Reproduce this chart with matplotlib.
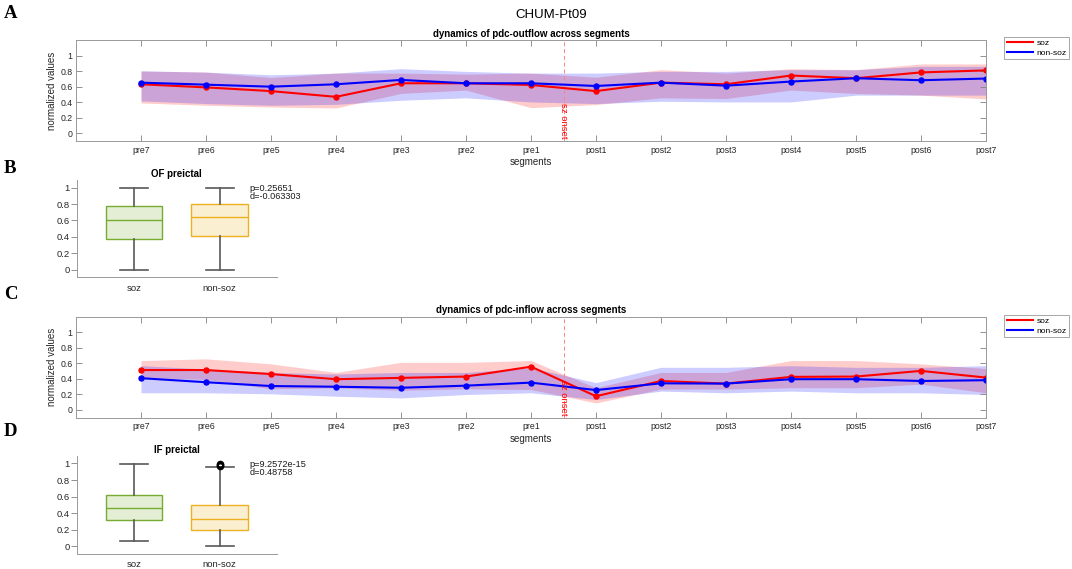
import numpy as np
import matplotlib.pyplot as plt
from matplotlib.lines import Line2D
from matplotlib.colors import to_rgba

plt.rcParams['font.family'] = ['Liberation Sans', 'DejaVu Sans']

segments = ['pre7', 'pre6', 'pre5', 'pre4', 'pre3', 'pre2', 'pre1',
            'post1', 'post2', 'post3', 'post4', 'post5', 'post6', 'post7']

# pdc-outflow (panel A): mean and shaded band
of_soz = [0.629, 0.589, 0.541, 0.467, 0.642, 0.642, 0.620,
          0.541, 0.650, 0.629, 0.742, 0.707, 0.782, 0.808]
of_soz_lo = [0.388, 0.358, 0.336, 0.323, 0.511, 0.554, 0.327,
             0.367, 0.454, 0.445, 0.554, 0.511, 0.489, 0.440]
of_soz_hi = [0.800, 0.786, 0.716, 0.773, 0.773, 0.760, 0.773,
             0.720, 0.817, 0.773, 0.830, 0.817, 0.891, 0.891]
of_nsoz = [0.650, 0.624, 0.598, 0.629, 0.685, 0.642, 0.642,
           0.607, 0.650, 0.611, 0.664, 0.707, 0.681, 0.703]
of_nsoz_lo = [0.415, 0.380, 0.358, 0.370, 0.423, 0.454, 0.401,
              0.380, 0.410, 0.401, 0.401, 0.489, 0.489, 0.489]
of_nsoz_hi = [0.803, 0.786, 0.751, 0.773, 0.830, 0.795, 0.773,
              0.773, 0.795, 0.795, 0.817, 0.817, 0.860, 0.860]

# pdc-inflow (panel C)
if_soz = [0.511, 0.511, 0.459, 0.393, 0.410, 0.427, 0.554,
          0.174, 0.370, 0.336, 0.423, 0.427, 0.500, 0.414]
if_soz_lo = [0.414, 0.390, 0.270, 0.280, 0.250, 0.270, 0.260,
             0.087, 0.266, 0.266, 0.283, 0.283, 0.330, 0.218]
if_soz_hi = [0.633, 0.655, 0.590, 0.480, 0.610, 0.610, 0.633,
             0.283, 0.480, 0.480, 0.633, 0.633, 0.590, 0.530]
if_nsoz = [0.406, 0.354, 0.305, 0.296, 0.283, 0.310, 0.349,
           0.253, 0.340, 0.336, 0.393, 0.393, 0.370, 0.380]
if_nsoz_lo = [0.218, 0.218, 0.205, 0.174, 0.152, 0.196, 0.218,
              0.131, 0.240, 0.218, 0.240, 0.218, 0.218, 0.196]
if_nsoz_hi = [0.567, 0.524, 0.480, 0.460, 0.480, 0.480, 0.540,
              0.349, 0.546, 0.546, 0.567, 0.546, 0.546, 0.567]

# box stats: whislo, q1, med, q3, whishi
of_box_soz = [0.0, 0.368, 0.600, 0.779, 1.0]
of_box_nsoz = [0.0, 0.408, 0.637, 0.797, 1.0]
if_box_soz = [0.064, 0.311, 0.456, 0.613, 0.996]
if_box_nsoz = [0.0, 0.190, 0.323, 0.496, 0.955]
if_nsoz_fliers = [0.972, 0.985, 0.998]

of_stats_txt = 'p=0.25651\nd=-0.063303'
if_stats_txt = 'p=9.2572e-15\nd=0.48758'

W, H = 1072, 569
fig = plt.figure(figsize=(W / 100, H / 100), dpi=100)


def px_axes(l, t, r, b):
    return fig.add_axes([l / W, 1 - b / H, (r - l) / W, (b - t) / H])


def line_panel(ax, title, soz, soz_lo, soz_hi, nsoz, nsoz_lo, nsoz_hi, leg_top):
    x = np.arange(1, len(segments) + 1)
    ax.fill_between(x, soz_lo, soz_hi, color='red', alpha=0.2, lw=0)
    ax.fill_between(x, nsoz_lo, nsoz_hi, color='blue', alpha=0.2, lw=0)
    ax.axvline(7.5, color='#ff8080', ls='--', lw=0.7, dashes=(4, 3))
    ax.plot(x, soz, '-o', color='red', lw=1.5, ms=3.6)
    ax.plot(x, nsoz, '-o', color='blue', lw=1.5, ms=3.6)
    ax.text(7.5, -0.075, 'sz onset', rotation=-90, color='red', fontsize=6.8,
            ha='center', va='bottom')
    ax.set_xlim(0, 14)
    ax.set_ylim(-0.1, 1.2)
    ax.set_xticks(x, segments)
    yt = [0, 0.2, 0.4, 0.6, 0.8, 1]
    ax.set_yticks(yt, ['0', '0.2', '0.4', '0.6', '0.8', '1'])
    ax.tick_params(direction='in', top=True, right=True, length=4.5, width=0.6,
                   color='0.5', labelsize=6.3, labelcolor='0.15')
    ax.tick_params(axis='x', pad=3.5)
    ax.tick_params(axis='y', pad=2.5)
    for s in ax.spines.values():
        s.set_color('0.6')
        s.set_linewidth(0.7)
    ax.set_title(title, fontsize=7, fontweight='bold', pad=2.5)
    ax.set_xlabel('segments', fontsize=7, labelpad=2, color='0.15')
    ax.set_ylabel('normalized values', fontsize=7, labelpad=2.5, color='0.15')
    handles = [Line2D([], [], color='red', lw=1.5),
               Line2D([], [], color='blue', lw=1.5)]
    leg = ax.legend(handles, ['soz', 'non-soz'], loc='upper left',
                    bbox_to_anchor=(1004 / W, 1 - leg_top / H),
                    bbox_transform=fig.transFigure, borderaxespad=0,
                    fontsize=6, handlelength=3.2, handletextpad=0.4,
                    borderpad=0.3, labelspacing=0.2, fancybox=False,
                    framealpha=1, edgecolor='0.6')
    leg.get_frame().set_linewidth(0.6)


def box_panel(ax, title, soz_box, nsoz_box, nsoz_fl, txt):
    stats = []
    for lab, b, fl in [('soz', soz_box, []), ('non-soz', nsoz_box, nsoz_fl)]:
        stats.append(dict(label=lab, whislo=b[0], q1=b[1], med=b[2],
                          q3=b[3], whishi=b[4], fliers=fl))
    bp = ax.bxp(stats, positions=[1, 2], widths=0.66, capwidths=0.33,
                patch_artist=True, showfliers=True,
                whiskerprops=dict(color='0.35', lw=1.2),
                capprops=dict(color='0.35', lw=1.2),
                flierprops=dict(marker='o', mfc='none', mec='k', ms=4.2, mew=1.3))
    for patch, med, col in zip(bp['boxes'], bp['medians'], ['#77AC30', '#EDB120']):
        patch.set_facecolor(to_rgba(col, 0.2))
        patch.set_edgecolor(col)
        patch.set_linewidth(1.0)
        med.set_color(col)
        med.set_linewidth(1.0)
    ax.set_xlim(1 / 3, 8 / 3)
    ax.set_ylim(-0.095, 1.094)
    ax.set_yticks([0, 0.2, 0.4, 0.6, 0.8, 1], ['0', '0.2', '0.4', '0.6', '0.8', '1'])
    ax.spines['top'].set_visible(False)
    ax.spines['right'].set_visible(False)
    for s in ['left', 'bottom']:
        ax.spines[s].set_color('0.6')
        ax.spines[s].set_linewidth(0.7)
    ax.tick_params(axis='x', length=0, pad=4.5, labelsize=6.8, labelcolor='0.15')
    ax.tick_params(axis='y', direction='out', length=4, width=0.6, color='0.5',
                   pad=1, labelsize=6.8, labelcolor='0.15')
    ax.set_title(title, fontsize=7, fontweight='bold', pad=2)
    ax.text(2.348, 1.045, txt, fontsize=6.6, va='top', ha='left',
            linespacing=0.92, color='0.1')


axA = px_axes(76, 40, 986, 140.8)
line_panel(axA, 'dynamics of pdc-outflow across segments',
           of_soz, of_soz_lo, of_soz_hi, of_nsoz, of_nsoz_lo, of_nsoz_hi, 37)

axB = px_axes(76.7, 180, 277, 277.3)
box_panel(axB, 'OF preictal', of_box_soz, of_box_nsoz, [], of_stats_txt)

axC = px_axes(76, 316.5, 986, 417.5)
line_panel(axC, 'dynamics of pdc-inflow across segments',
           if_soz, if_soz_lo, if_soz_hi, if_nsoz, if_nsoz_lo, if_nsoz_hi, 315)

axD = px_axes(76.7, 455.7, 277, 554)
box_panel(axD, 'IF preictal', if_box_soz, if_box_nsoz, if_nsoz_fliers, if_stats_txt)

fig.text(551 / W, 1 - 15 / H, 'CHUM-Pt09', fontsize=9.5, ha='center', va='center')

for lab, yc in [('A', 13.3), ('B', 168.5), ('C', 294.5), ('D', 432)]:
    fig.text(10.4 / W, 1 - yc / H, lab, fontsize=13.5, fontweight='bold',
             family='Liberation Serif', ha='center', va='center')

fig.savefig('out.png', dpi=100)
plt.close(fig)
